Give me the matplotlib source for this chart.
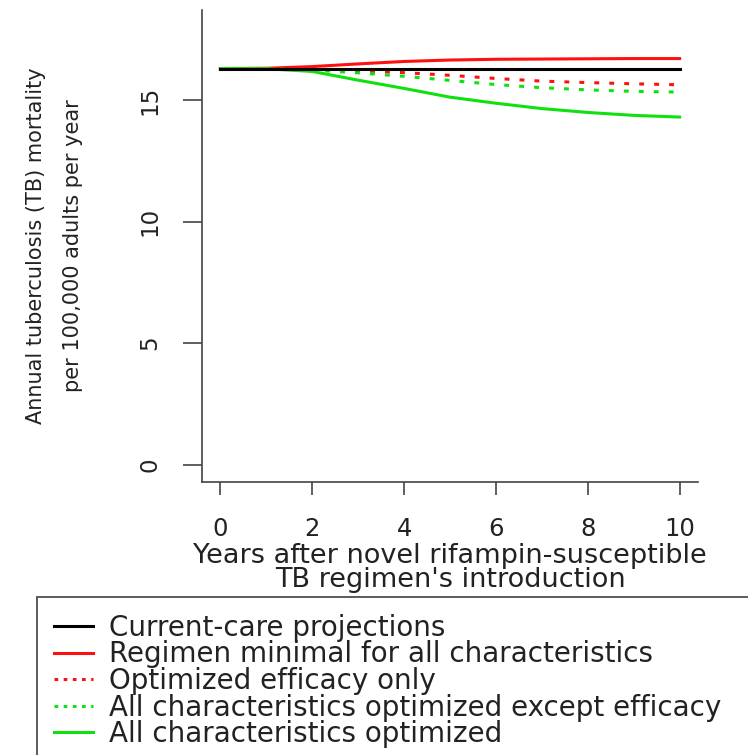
import numpy as np
import matplotlib
matplotlib.use("Agg")
import matplotlib.pyplot as plt
from matplotlib.lines import Line2D

plt.rcParams['font.family'] = ['DejaVu Sans']

# annual TB mortality per 100,000 adults, years 0..10 after introduction
years = [0, 1, 2, 3, 4, 5, 6, 7, 8, 9, 10]
current_care = [16.31, 16.31, 16.31, 16.31, 16.31, 16.31, 16.31, 16.31, 16.31, 16.31, 16.31]
minimal_all = [16.31, 16.32, 16.39, 16.50, 16.60, 16.66, 16.69, 16.70, 16.71, 16.72, 16.72]
efficacy_only = [16.31, 16.31, 16.29, 16.22, 16.14, 16.03, 15.90, 15.79, 15.73, 15.68, 15.64]
all_but_efficacy = [16.31, 16.30, 16.25, 16.13, 15.99, 15.82, 15.65, 15.52, 15.43, 15.37, 15.34]
all_optimized = [16.31, 16.30, 16.19, 15.83, 15.49, 15.13, 14.88, 14.66, 14.50, 14.38, 14.31]

labels = ["Current-care projections",
          "Regimen minimal for all characteristics",
          "Optimized efficacy only",
          "All characteristics optimized except efficacy",
          "All characteristics optimized"]

RED = "#FF1010"
GREEN = "#10E010"
dotted = (0, (1.6, 3.3))

fig = plt.figure(figsize=(7.48, 7.55), dpi=100)
ax = fig.add_axes([202/748, 1 - 482/755, 496/748, 472/755])

lw = 2.2
ax.plot(years, minimal_all, color=RED, lw=lw)
ax.plot(years, efficacy_only, color=RED, lw=lw, linestyle=dotted)
ax.plot(years, all_but_efficacy, color=GREEN, lw=lw, linestyle=dotted)
ax.plot(years, all_optimized, color=GREEN, lw=lw)
ax.plot(years, current_care, color="black", lw=lw)

# R-style extended limits
ax.set_xlim(-0.4, 10.4)
ax.set_ylim(-0.72, 18.72)
ax.set_xticks([0, 2, 4, 6, 8, 10])
ax.set_yticks([0, 5, 10, 15])

for s in ["top", "right"]:
    ax.spines[s].set_visible(False)
for s in ["left", "bottom"]:
    ax.spines[s].set_color("#444444")
    ax.spines[s].set_linewidth(1.2)

ax.tick_params(axis="x", length=9.4, width=1.2, color="#444444", pad=16,
               labelsize=17.5, labelcolor="#222222")
ax.tick_params(axis="y", length=13.5, width=1.2, color="#444444", pad=16,
               labelsize=16.5, labelcolor="#222222", labelrotation=90)
for t in ax.get_yticklabels():
    t.set_va("center")

ax.set_xlabel("Years after novel rifampin-susceptible\nTB regimen's introduction",
              fontsize=19.5, color="#222222", linespacing=0.93, labelpad=1)
ax.set_ylabel("Annual tuberculosis (TB) mortality\nper 100,000 adults per year",
              fontsize=15, color="#222222", linespacing=2.05)
ax.yaxis.set_label_coords(-0.24, 0.5)

handles = [Line2D([], [], color="black", lw=lw),
           Line2D([], [], color=RED, lw=lw),
           Line2D([], [], color=RED, lw=lw, linestyle=(0, (1.2, 1.8))),
           Line2D([], [], color=GREEN, lw=lw, linestyle=(0, (1.2, 1.8))),
           Line2D([], [], color=GREEN, lw=lw)]
# legend box runs off the right and bottom edges of the figure
leg = fig.legend(handles, labels, loc="upper left", mode="expand",
                 bbox_to_anchor=(37/748, 0, 760/748, 1 - 597/755),
                 fontsize=20, frameon=True, fancybox=False,
                 handlelength=1.4, handletextpad=0.6, labelspacing=-0.05,
                 borderpad=0.6, borderaxespad=0)
leg.get_frame().set_edgecolor("#222222")
leg.get_frame().set_linewidth(1.3)
for t in leg.get_texts():
    t.set_color("#222222")

fig.savefig("out.png", dpi=100)
